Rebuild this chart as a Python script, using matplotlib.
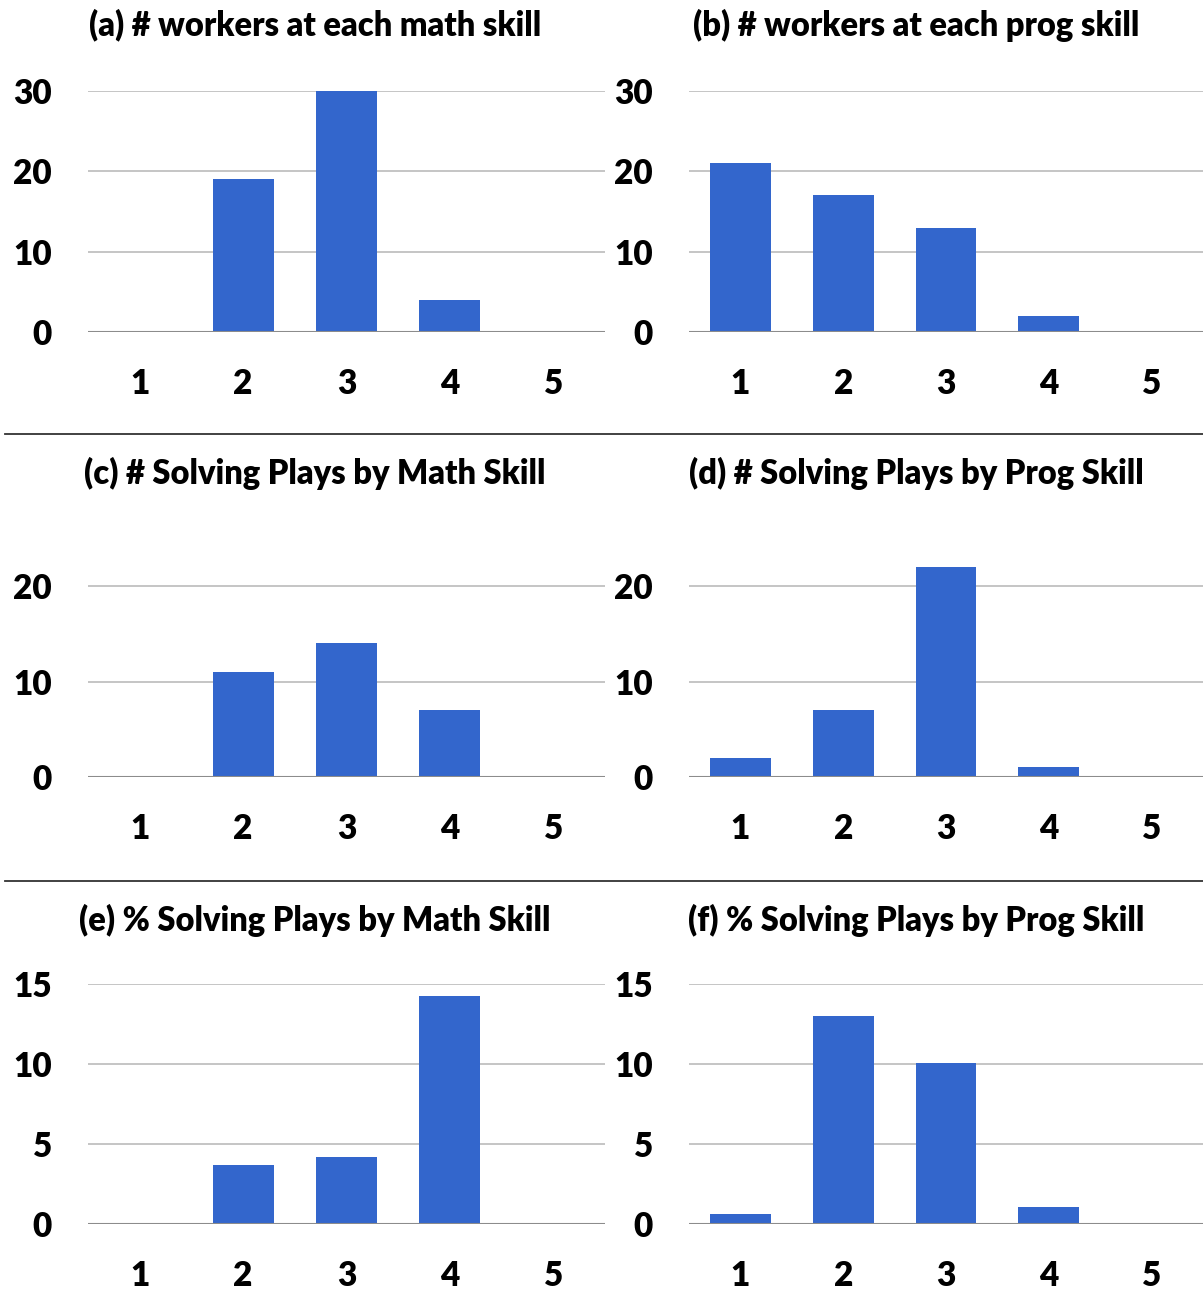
import matplotlib
matplotlib.use("Agg")
import matplotlib.pyplot as plt
from matplotlib.lines import Line2D

plt.rcParams['font.family'] = ['Lato', 'DejaVu Sans']
plt.rcParams['font.weight'] = 'heavy'

skills = ["1", "2", "3", "4", "5"]

math_workers = [0, 19, 30, 4, 0]
prog_workers = [21, 17, 13, 2, 0]
math_solving = [0, 11, 14, 7, 0]
prog_solving = [2, 7, 22, 1, 0]
math_pct = [0, 3.70, 4.16, 14.27, 0]
prog_pct = [0.63, 12.97, 10.09, 1.09, 0]

titles = [
    "(a) # workers at each math skill",
    "(b) # workers at each prog skill",
    "(c) # Solving Plays by Math Skill",
    "(d) # Solving Plays by Prog Skill",
    "(e) % Solving Plays by Math Skill",
    "(f) % Solving Plays by Prog Skill",
]
series = [math_workers, prog_workers, math_solving, prog_solving, math_pct, prog_pct]
yticks = [[0, 10, 20, 30], [0, 10, 20, 30], [0, 10, 20], [0, 10, 20], [0, 5, 10, 15], [0, 5, 10, 15]]
ylims = [30, 30, 25, 25, 15, 15]

W, H = 1203, 1291
fig = plt.figure(figsize=(W / 100, H / 100), dpi=100)

BAR = "#3366CC"
GRID = "#C0C0C0"
BASE = "#8C8C8C"

# pixel boxes: (left, right) per column and (y_zero, y_top) per row
cols = [(88, 605), (689, 1203)]
rows = [(332, 91), (777, 538.5), (1224, 984)]
title_y = [25, 473, 920]
title_x = [315, 916]


def px_axes(l, r, yb, yt):
    return fig.add_axes([l / W, 1 - yb / H, (r - l) / W, (yb - yt) / H])


for i in range(6):
    r, c = divmod(i, 2)
    l, rr = cols[c]
    yb, yt = rows[r]
    ax = px_axes(l, rr, yb, yt)
    ax.bar(range(len(skills)), series[i], width=0.59, color=BAR, zorder=3)
    ax.set_xlim(-0.5, 4.5)
    ax.set_ylim(0, ylims[i])
    ax.set_yticks(yticks[i])
    ax.set_xticks(range(len(skills)))
    ax.set_xticklabels(skills)
    for s in ax.spines.values():
        s.set_visible(False)
    for t in yticks[i][1:]:
        ax.axhline(t, color=GRID, lw=1.3, zorder=1)
    ax.axhline(0, color=BASE, lw=1.5, zorder=4)
    ax.tick_params(axis='both', length=0, labelsize=24)
    ax.tick_params(axis='y', pad=26)
    ax.tick_params(axis='x', pad=26)
    ax.set_facecolor('none')
    fig.text(title_x[c] / W, 1 - title_y[r] / H, titles[i], ha='center', va='center',
             fontsize=23.5, fontweight='heavy')

# separators between rows
for y in (434, 881):
    fig.add_artist(Line2D([5 / W, 1], [1 - y / H, 1 - y / H], color="#333333", lw=1.3,
                          transform=fig.transFigure))

fig.savefig("out.png", dpi=100)
